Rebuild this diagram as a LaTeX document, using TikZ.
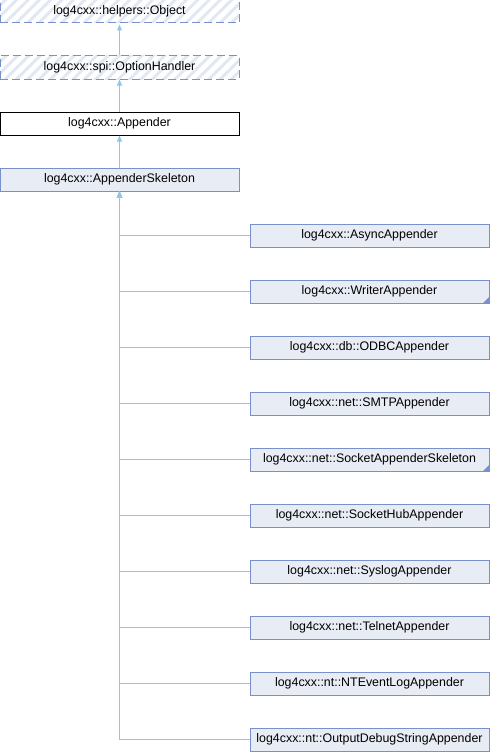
\documentclass[tikz,border=0pt]{standalone}
\usepackage{fontspec}
\setmainfont{Liberation Sans}
\usetikzlibrary{patterns.meta,arrows.meta}
\definecolor{boxfill}{RGB}{232,236,245}
\definecolor{boxline}{RGB}{122,144,204}
\definecolor{edgecol}{RGB}{140,200,235}
\definecolor{hatchcol}{RGB}{226,232,243}
\begin{document}
\begin{tikzpicture}[x=1pt,y=-1pt,
  cls/.style={draw=boxline, fill=boxfill, line width=1pt, minimum width=239pt,
    minimum height=23pt, inner sep=0pt, font=\fontsize{12.4}{14}\selectfont},
  extcls/.style={cls, dash pattern=on 8pt off 4pt,
    pattern={Lines[angle=45,distance=8pt,line width=3pt]}, pattern color=hatchcol},
  plaincls/.style={cls, draw=black, fill=white},
  inh/.style={draw=edgecol, line width=1pt, -{Triangle[length=6pt,width=5pt]}},
  more/.style={fill=boxline}]
\useasboundingbox (0,0) rectangle (490,752);
\node[extcls] (obj) at (119.5,11.5) {log4cxx::helpers::Object};
\node[extcls] (opt) at (119.5,67.5) {log4cxx::spi::OptionHandler};
\node[plaincls] (app) at (119.5,123.5) {log4cxx::Appender};
\node[cls] (skel) at (119.5,179.5) {log4cxx::AppenderSkeleton};
\node[cls] (c1) at (369.5,235.5) {log4cxx::AsyncAppender};
\node[cls] (c2) at (369.5,291.5) {log4cxx::WriterAppender};
\node[cls] (c3) at (369.5,347.5) {log4cxx::db::ODBCAppender};
\node[cls] (c4) at (369.5,403.5) {log4cxx::net::SMTPAppender};
\node[cls] (c5) at (369.5,459.5) {log4cxx::net::SocketAppenderSkeleton};
\node[cls] (c6) at (369.5,515.5) {log4cxx::net::SocketHubAppender};
\node[cls] (c7) at (369.5,571.5) {log4cxx::net::SyslogAppender};
\node[cls] (c8) at (369.5,627.5) {log4cxx::net::TelnetAppender};
\node[cls] (c9) at (369.5,683.5) {log4cxx::nt::NTEventLogAppender};
\node[cls] (c10) at (369.5,739.5) {log4cxx::nt::OutputDebugStringAppender};
\draw[inh] (opt.north) -- (obj.south);
\draw[inh] (app.north) -- (opt.south);
\draw[inh] (skel.north) -- (app.south);
\foreach \c in {c1,c2,c3,c4,c5,c6,c7,c8,c9,c10}
  \draw[inh] (\c.west) -| (skel.south);
\fill[more] (c2.south east) -- ++(-7,0) -- ++(7,-7) -- cycle;
\fill[more] (c5.south east) -- ++(-7,0) -- ++(7,-7) -- cycle;
\end{tikzpicture}
\end{document}
